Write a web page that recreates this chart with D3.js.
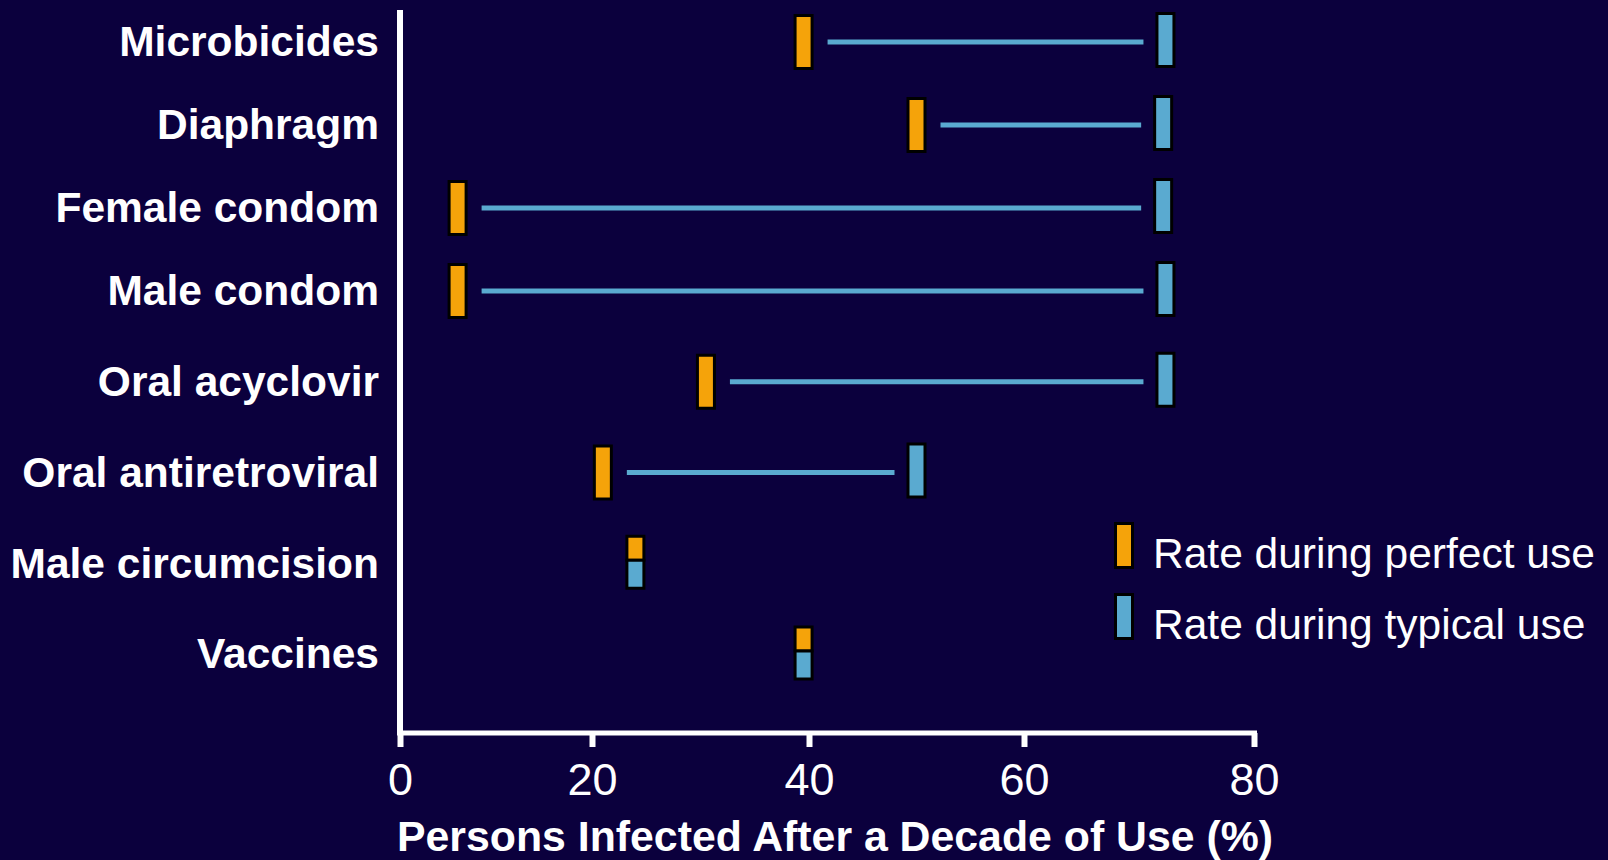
<!DOCTYPE html>
<html>
<head>
<meta charset="utf-8">
<script src="https://cdn.jsdelivr.net/npm/d3@7"></script>
<style>
  html, body { margin: 0; padding: 0; background: #0b003d; }
  svg { display: block; }
</style>
</head>
<body>
<script>
// ---- data ----
const categories = ["Microbicides", "Diaphragm", "Female condom", "Male condom",
                    "Oral acyclovir", "Oral antiretroviral", "Male circumcision", "Vaccines"];
const perfectUse = [39.5, 50, 6, 6, 30.5, 21, 24, 39.5];
const typicalUse = [72.3, 72.1, 72.1, 72.3, 72.3, 50, 24, 39.5];
const xTicks = [0, 20, 40, 60, 80];
const seriesNames = ["Rate during perfect use", "Rate during typical use"];
const xTitle = "Persons Infected After a Decade of Use (%)";

// ---- styles ----
const W = 1608, H = 860;
const bg = "#0b003d";
const orange = "#f5a30a";
const blue = "#5aaad0";

const rows = categories.map((c, i) => ({ cat: c, i: i, p: perfectUse[i], t: typicalUse[i] }));

const svg = d3.select("body").append("svg").attr("width", W).attr("height", H);
svg.append("rect").attr("width", W).attr("height", H).attr("fill", bg);

// the original slide's axis is slightly non-uniform: piecewise-linear scale through the tick stops
const x = d3.scaleLinear().domain(xTicks).range([400, 592, 809, 1024, 1254]);
const yIdx = d3.scaleLinear().domain([0, 3, categories.length - 1]).range([41, 290, 653]);
const y = c => yIdx(categories.indexOf(c));
const axisY = 733;

// connecting lines
svg.append("g").selectAll("line")
  .data(rows.filter(d => d.p !== d.t))
  .join("line")
  .attr("x1", d => x(d.p) + 24)
  .attr("x2", d => x(d.t) - 22)
  .attr("y1", d => y(d.cat) + 1)
  .attr("y2", d => y(d.cat) + 1)
  .attr("stroke", blue)
  .attr("stroke-width", 5);

const mw = 17, mh = 53, sw = 3;
// separate markers
const sep = rows.filter(d => d.p !== d.t);
svg.append("g").selectAll("rect")
  .data(sep)
  .join("rect")
  .attr("x", d => x(d.p) - mw / 2)
  .attr("y", d => y(d.cat) - mh / 2 + 1)
  .attr("width", mw).attr("height", mh)
  .attr("fill", orange).attr("stroke", "#000").attr("stroke-width", sw);
svg.append("g").selectAll("rect")
  .data(sep)
  .join("rect")
  .attr("x", d => x(d.t) - mw / 2)
  .attr("y", d => y(d.cat) - mh / 2 - 1)
  .attr("width", mw).attr("height", mh)
  .attr("fill", blue).attr("stroke", "#000").attr("stroke-width", sw);

// stacked markers (equal values)
const same = rows.filter(d => d.p === d.t);
svg.append("g").selectAll("rect")
  .data(same)
  .join("rect")
  .attr("x", d => x(d.p) - mw / 2)
  .attr("y", d => y(d.cat) - 26)
  .attr("width", mw).attr("height", 24)
  .attr("fill", orange).attr("stroke", "#000").attr("stroke-width", sw);
svg.append("g").selectAll("rect")
  .data(same)
  .join("rect")
  .attr("x", d => x(d.t) - mw / 2)
  .attr("y", d => y(d.cat) - 2)
  .attr("width", mw).attr("height", 28)
  .attr("fill", blue).attr("stroke", "#000").attr("stroke-width", sw);

// category labels
svg.append("g").selectAll("text")
  .data(categories)
  .join("text")
  .attr("x", x(0) - 21)
  .attr("y", d => y(d))
  .attr("dy", "0.36em")
  .attr("text-anchor", "end")
  .attr("fill", "#fff")
  .style("font-family", "'Liberation Sans', Arial, sans-serif")
  .style("font-weight", "bold")
  .style("font-size", "42.5px")
  .text(d => d);

// axes lines
svg.append("line")
  .attr("x1", x(0)).attr("x2", x(0))
  .attr("y1", 10).attr("y2", axisY)
  .attr("stroke", "#fff").attr("stroke-width", 6);

const xAxis = d3.axisBottom(x).tickValues(xTicks).tickSize(14).tickSizeOuter(0).tickFormat(d3.format("d"));
const gx = svg.append("g").attr("transform", `translate(0,${axisY})`).call(xAxis);
gx.select(".domain").attr("stroke", "#fff").attr("stroke-width", 5)
  .attr("d", `M${x(0) - 3},0H${x(80) + 3}`);
gx.selectAll(".tick line").attr("stroke", "#fff").attr("stroke-width", 6);
gx.selectAll(".tick text")
  .attr("fill", "#fff")
  .attr("y", 30)
  .attr("dy", "0.71em")
  .style("font-family", "'Liberation Sans Narrow', 'Liberation Sans', Arial, sans-serif")
  .style("font-size", "45px");

// x title
svg.append("text")
  .attr("x", 835)
  .attr("y", 851)
  .attr("text-anchor", "middle")
  .attr("fill", "#fff")
  .style("font-family", "'Liberation Sans', Arial, sans-serif")
  .style("font-weight", "bold")
  .style("font-size", "42.8px")
  .text(xTitle);

// legend
const legend = svg.append("g").attr("transform", "translate(1114,522)");
const legColors = [orange, blue];
const lg = legend.selectAll("g").data(seriesNames).join("g")
  .attr("transform", (d, i) => `translate(0,${i * 71})`);
lg.append("rect")
  .attr("x", 1.5).attr("y", 1.5)
  .attr("width", 17).attr("height", 44)
  .attr("fill", (d, i) => legColors[i])
  .attr("stroke", "#000").attr("stroke-width", sw);
lg.append("text")
  .attr("x", 39).attr("y", 46)
  .attr("fill", "#fff")
  .style("font-family", "'Liberation Sans', Arial, sans-serif")
  .style("font-size", "42.5px")
  .text(d => d);
</script>
</body>
</html>
